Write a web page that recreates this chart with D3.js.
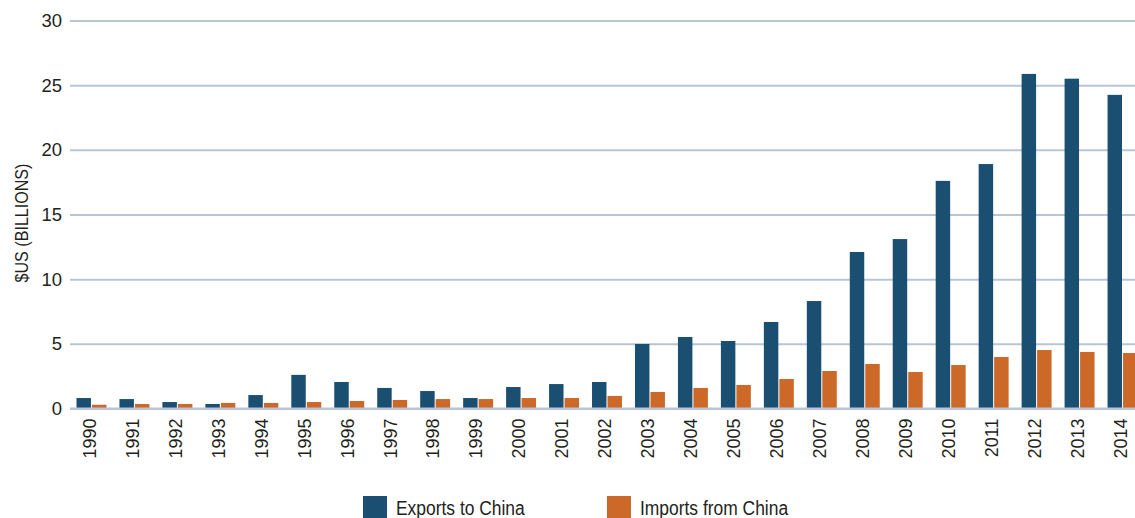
<!DOCTYPE html>
<html>
<head>
<meta charset="utf-8">
<script src="https://cdn.jsdelivr.net/npm/d3@7"></script>
<style>
  html, body { margin: 0; padding: 0; background: #fff; }
  svg { display: block; }
  text { font-family: "Liberation Sans", Arial, sans-serif; fill: #231f20; }
</style>
</head>
<body>
<svg id="chart" width="1135" height="518"></svg>
<script>
// Annual trade with China, $US billions
const years = ["1990","1991","1992","1993","1994","1995","1996","1997","1998","1999",
  "2000","2001","2002","2003","2004","2005","2006","2007","2008","2009",
  "2010","2011","2012","2013","2014"];
const exportsToChina = [0.81,0.73,0.50,0.35,1.04,2.60,2.05,1.59,1.35,0.81,
  1.66,1.89,2.05,4.99,5.53,5.22,6.69,8.31,12.1,13.1,
  17.6,18.9,25.87,25.5,24.25];
const importsFromChina = [0.29,0.35,0.35,0.43,0.43,0.50,0.58,0.66,0.73,0.73,
  0.81,0.81,0.97,1.28,1.59,1.82,2.28,2.90,3.44,2.82,
  3.36,3.98,4.52,4.37,4.29];
const seriesNames = ["Exports to China", "Imports from China"];
const seriesColors = ["#1b4f72", "#cc6828"];
const yTicks = [0, 5, 10, 15, 20, 25, 30];

const svg = d3.select("#chart");
const plotLeft = 70, plotRight = 1144, plotTop = 20.5, plotBottom = 408.5;
// Horizontal squeeze that gives the lettering a condensed look
const condense = 0.83;

const x0 = d3.scaleBand().domain(years).range([plotLeft, plotRight]).padding(0);
const x1 = d3.scaleBand().domain(seriesNames)
  .range([6.5, x0.bandwidth() - 6.5]).paddingInner(0.067);
const y = d3.scaleLinear().domain([0, 30]).range([plotBottom, plotTop]);
const color = d3.scaleOrdinal().domain(seriesNames).range(seriesColors);

// Horizontal gridlines with value labels
const yAxis = svg.append("g")
  .attr("transform", `translate(${plotLeft},0)`)
  .call(d3.axisLeft(y).tickValues(yTicks).tickSize(-(1135 - plotLeft)).tickPadding(8));
yAxis.select(".domain").remove();
yAxis.selectAll(".tick line").attr("stroke", "#b9c4d8").attr("stroke-width", 2);
yAxis.selectAll(".tick text").attr("font-size", 18.5).attr("fill", "#231f20");

// Grouped bars
const rows = years.map((yr, i) => ({ year: yr, values: [
  { key: seriesNames[0], value: exportsToChina[i] },
  { key: seriesNames[1], value: importsFromChina[i] }
]}));

svg.append("g").selectAll("g").data(rows).join("g")
  .attr("transform", d => `translate(${x0(d.year)},0)`)
  .selectAll("rect").data(d => d.values).join("rect")
  .attr("x", d => x1(d.key))
  .attr("width", x1.bandwidth())
  .attr("y", d => y(d.value))
  .attr("height", d => y(0) - y(d.value))
  .attr("fill", d => color(d.key));

// Baseline redrawn over the bars
svg.append("line")
  .attr("x1", plotLeft).attr("x2", 1135)
  .attr("y1", y(0)).attr("y2", y(0))
  .attr("stroke", "#b9c4d8").attr("stroke-width", 2);

// Year labels, rotated
const xAxis = svg.append("g")
  .attr("transform", `translate(-2,${plotBottom})`)
  .call(d3.axisBottom(x0).tickSize(0).tickPadding(0));
xAxis.select(".domain").remove();
xAxis.selectAll(".tick text")
  .attr("font-size", 18)
  .attr("fill", "#231f20")
  .attr("transform", "translate(0,10) rotate(-90)")
  .attr("text-anchor", "end")
  .attr("dx", 0)
  .attr("dy", "0.35em")
  .attr("x", 0).attr("y", 0);

// Y axis title
svg.append("text")
  .attr("transform", `translate(22,223) rotate(-90) scale(0.87,1)`)
  .attr("text-anchor", "middle")
  .attr("dy", "0.35em")
  .attr("font-size", 18.5)
  .text("$US (BILLIONS)");

// Legend
const legendX = [363, 607];
const legend = svg.append("g").selectAll("g").data(seriesNames).join("g")
  .attr("transform", (d, i) => `translate(${legendX[i]},496)`);
legend.append("rect").attr("width", 24).attr("height", 22).attr("fill", d => color(d));
legend.append("text")
  .attr("transform", `translate(33,19) scale(${condense},1)`)
  .attr("font-size", 21)
  .text(d => d);
</script>
</body>
</html>
